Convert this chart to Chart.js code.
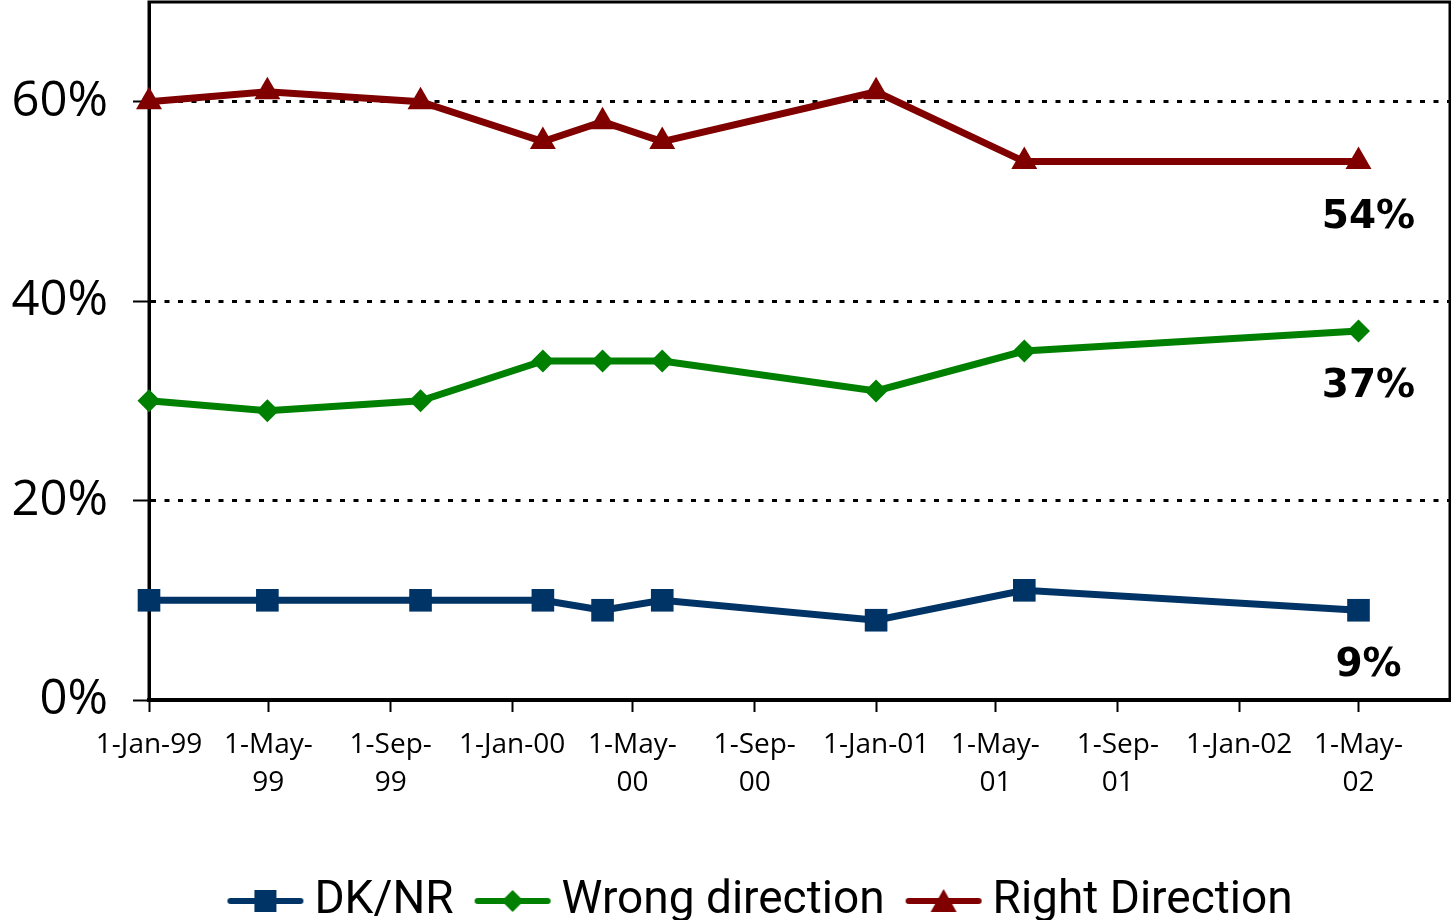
<!DOCTYPE html>
<html>
<head>
<meta charset="utf-8">
<script src="https://cdn.jsdelivr.net/npm/chart.js@4.4.1/dist/chart.umd.min.js"></script>
<style>
  html, body { margin: 0; padding: 0; background: #fff; }
  #contenedor { width: 1451px; height: 920px; }
</style>
</head>
<body>
<div id="contenedor"><canvas id="graficaDireccion"></canvas></div>
<script>
// --- Datos (días desde 1-Jan-99) ---
const surveyDays = [0, 119, 273, 396, 456, 516, 731, 880, 1216];
const dkNr = [10, 10, 10, 10, 9, 10, 8, 11, 9];
const wrongDirection = [30, 29, 30, 34, 34, 34, 31, 35, 37];
const rightDirection = [60, 61, 60, 56, 58, 56, 61, 54, 54];

const tickDays = [0, 120, 243, 365, 486, 609, 731, 851, 974, 1096, 1216];
const tickLabels = ['1-Jan-99', ['1-May-', '99'], ['1-Sep-', '99'], '1-Jan-00', ['1-May-', '00'],
    ['1-Sep-', '00'], '1-Jan-01', ['1-May-', '01'], ['1-Sep-', '01'], '1-Jan-02', ['1-May-', '02']];
const yTicks = [0, 20, 40, 60];

const seriesNames = ['DK/NR', 'Wrong direction', 'Right Direction'];
const seriesColors = ['#003366', '#008000', '#800000'];

const toPoints = (vals) => vals.map((v, i) => ({ x: surveyDays[i], y: v }));

// marcador de leyenda: línea con el símbolo al centro
function legendMarker(color, style) {
    const c = document.createElement('canvas');
    c.width = 78; c.height = 30;
    const g = c.getContext('2d');
    g.strokeStyle = color; g.lineWidth = 6; g.lineCap = 'round';
    g.beginPath(); g.moveTo(4, 15); g.lineTo(74, 15); g.stroke();
    g.fillStyle = color;
    g.beginPath();
    if (style === 'rect') {
        g.rect(28, 4, 22, 22);
    } else if (style === 'rectRot') {
        g.moveTo(39, 4); g.lineTo(50, 15); g.lineTo(39, 26); g.lineTo(28, 15);
    } else {
        g.moveTo(39, 3); g.lineTo(52, 26); g.lineTo(26, 26);
    }
    g.closePath(); g.fill();
    return c;
}
const legendImgs = [
    legendMarker(seriesColors[0], 'rect'),
    legendMarker(seriesColors[1], 'rectRot'),
    legendMarker(seriesColors[2], 'triangle')
];

// borde del área de trazado + leyenda un poco a la derecha
const plotBorder = {
    id: 'plotBorder',
    afterLayout(chart) {
        if (chart.legend) { chart.legend.left += 41; chart.legend.right += 41; }
    },
    beforeDatasetsDraw(chart) {
        const { ctx, chartArea: a } = chart;
        ctx.save();
        ctx.strokeStyle = '#000';
        ctx.lineWidth = 3;
        ctx.strokeRect(a.left, a.top, a.right - a.left, a.bottom - a.top);
        ctx.restore();
    }
};

// etiqueta del último valor debajo de cada serie
const lastValueLabels = {
    id: 'lastValueLabels',
    afterDatasetsDraw(chart) {
        const { ctx } = chart;
        ctx.save();
        ctx.font = "bold 39px 'DejaVu Sans'";
        ctx.fillStyle = '#000';
        ctx.textAlign = 'center';
        ctx.textBaseline = 'middle';
        chart.data.datasets.forEach((ds, i) => {
            const meta = chart.getDatasetMeta(i);
            const pt = meta.data[meta.data.length - 1];
            const last = ds.data[ds.data.length - 1].y;
            ctx.fillText(last + '%', pt.x + 10, pt.y + 56);
        });
        ctx.restore();
    }
};

const ctx = document.getElementById('graficaDireccion').getContext('2d');

new Chart(ctx, {
    type: 'line',
    data: {
        datasets: [
            { label: seriesNames[0], data: toPoints(dkNr), pointStyle: 'rect', pointRadius: 16 },
            { label: seriesNames[1], data: toPoints(wrongDirection), pointStyle: 'rectRot', pointRadius: 11.5 },
            { label: seriesNames[2], data: toPoints(rightDirection), pointStyle: 'triangle', pointRadius: 15 }
        ].map((ds, i) => Object.assign(ds, {
            borderColor: seriesColors[i],
            backgroundColor: seriesColors[i],
            pointBackgroundColor: seriesColors[i],
            pointBorderWidth: 0,
            pointHoverRadius: ds.pointRadius,
            borderWidth: 7,
            tension: 0,
            clip: false
        }))
    },
    options: {
        responsive: true,
        maintainAspectRatio: false,
        animation: false,
        layout: { autoPadding: false, padding: { top: 2, right: 1, left: 0, bottom: -14 } },
        scales: {
            x: {
                type: 'linear',
                min: 0,
                max: 1308,
                afterBuildTicks: (scale) => { scale.ticks = tickDays.map(v => ({ value: v })); },
                afterFit: (scale) => {
                    scale.height = 145;
                    scale.paddingLeft = 0;
                    scale.paddingRight = 0;
                },
                ticks: {
                    autoSkip: false,
                    maxRotation: 0,
                    color: '#000',
                    padding: 14,
                    font: { family: "'Open Sans'", size: 28, lineHeight: 1.36 },
                    callback: (v, i) => tickLabels[i]
                },
                grid: { drawOnChartArea: false, drawTicks: true, tickLength: 12, tickColor: '#000', tickWidth: 2 },
                border: { display: true, color: '#000', width: 4 }
            },
            y: {
                min: 0,
                max: 70,
                afterBuildTicks: (scale) => { scale.ticks = yTicks.map(v => ({ value: v })); },
                afterFit: (scale) => {
                    scale.width = 149;
                    scale.paddingTop = 0;
                    scale.paddingBottom = 0;
                },
                ticks: {
                    color: '#000',
                    padding: 25,
                    font: { family: "'Open Sans'", size: 49 },
                    callback: (v) => v + '%'
                },
                grid: {
                    color: (c) => (c.tick && c.tick.value === 0) ? 'rgba(0,0,0,0)' : '#000',
                    lineWidth: 3,
                    tickLength: 16,
                    tickColor: '#000',
                    tickWidth: 2
                },
                border: { display: true, color: '#000', width: 3, dash: [5, 8.5] }
            }
        },
        plugins: {
            legend: {
                position: 'bottom',
                labels: {
                    usePointStyle: true,
                    pointStyleWidth: 52,
                    padding: 33,
                    color: '#000',
                    font: { family: 'Roboto', size: 46 },
                    generateLabels: (chart) => {
                        const items = Chart.defaults.plugins.legend.labels.generateLabels(chart);
                        items.forEach((it, i) => { it.pointStyle = legendImgs[i]; });
                        return items;
                    }
                }
            },
            tooltip: { enabled: false }
        }
    },
    plugins: [plotBorder, lastValueLabels]
});
</script>
</body>
</html>
